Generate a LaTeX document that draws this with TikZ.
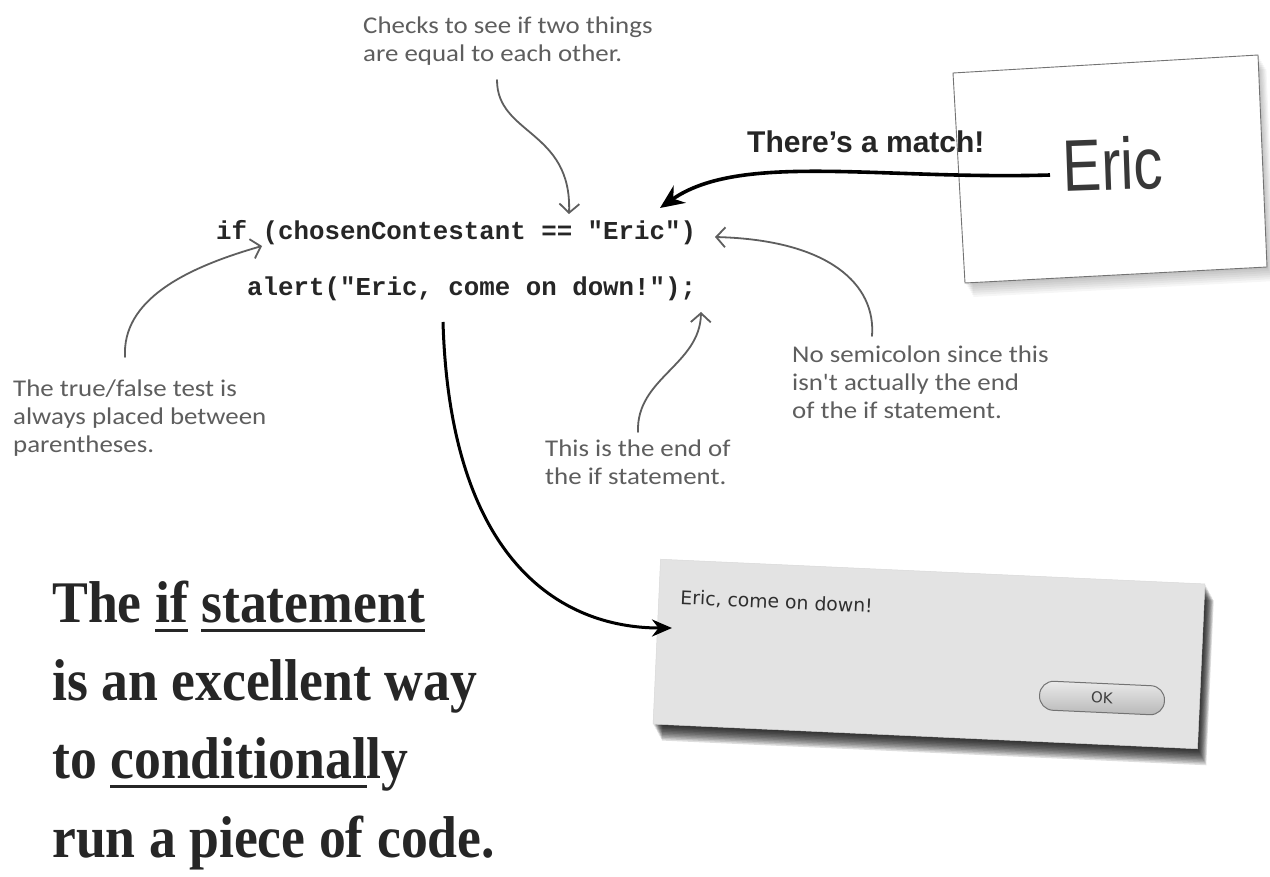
\documentclass[tikz,border=0pt]{standalone}
\usepackage{graphicx}
\usepackage{fontspec}
\setmainfont{Liberation Serif}
\newfontfamily\codefont{Liberation Mono}
\newfontfamily\handfont[FakeStretch=1.12]{Carlito}
\newfontfamily\boldsans{Liberation Sans}
\newfontfamily\dlgfont{DejaVu Sans}
\newfontfamily\bigfont[FakeStretch=0.91]{Liberation Serif}
\usetikzlibrary{arrows.meta}
\definecolor{pen}{HTML}{5E5E5E}
\definecolor{ink}{HTML}{262626}
\definecolor{dlgfill}{HTML}{E3E3E3}
\newcommand\myul[1]{\setbox0=\hbox{#1}\rlap{\rule[-10pt]{\wd0}{3pt}}\box0\relax}
\begin{document}
\begin{tikzpicture}[x=1pt,y=-1pt,
  note/.style={font=\handfont\fontsize{24}{28}\selectfont, text=pen, align=left, inner sep=0pt, anchor=north west},
  code/.style={font=\codefont\bfseries\fontsize{25.8}{30}\selectfont, text=ink, inner sep=0pt, anchor=base west},
  big/.style={font=\bigfont\bfseries\fontsize{59}{78}\selectfont, text=ink, inner sep=0pt, anchor=base west},
  pointer/.style={draw=pen, line width=1.8pt, line cap=round, -{Straight Barb[length=9pt,width=20pt,line width=1.8pt]}},
  bigarrow/.style={draw=black, line width=3.6pt, -{Stealth[length=24pt,width=21pt]}},
  flowarrow/.style={draw=black, line width=3pt, -{Stealth[length=20pt,width=17pt]}},
  dlgshadow/.style={rotate=-2.6, minimum width=545pt, minimum height=165pt, inner sep=0pt, fill=black, opacity=0.13},
]
\useasboundingbox (0,0) rectangle (1270,877);
\fill[white] (0,0) rectangle (1270,877);

% ---------- card with "Eric" ----------
\foreach \s in {2,4,...,14}
  \fill[black, opacity=0.035] (953+\s*0.6,73+\s) -- (1258+\s*0.6,55+\s) -- (1267+\s*0.6,267+\s) -- (965+\s*0.6,283+\s) -- cycle;
\filldraw[fill=white, draw=black!55, line width=0.9pt] (953,73) -- (1258,55) -- (1267,267) -- (965,283) -- cycle;
\node[font=\boldsans\fontsize{73}{73}\selectfont, text=black!78, anchor=base west, inner sep=0pt, rotate=2] (eric) at (1063,192) {\scalebox{0.8}[1]{Eric}};

% ---------- annotations ----------
\node[note] (n1) at (363,17) {Checks to see if two things\\are equal to each other.};
\node[note] (n2) at (13,380) {The true/false test is\\always placed between\\parentheses.};
\node[note] (n3) at (792,346) {No semicolon since this\\isn't actually the end\\of the if statement.};
\node[note] (n4) at (545,440) {This is the end of\\the if statement.};

% ---------- code ----------
\node[code] (line1) at (216,240) {if (chosenContestant == "Eric")};
\node[code] (line2) at (247,296) {alert("Eric, come on down!");};

% ---------- match label ----------
\node[font=\boldsans\bfseries\fontsize{30}{30}\selectfont, text=ink, anchor=base west, inner sep=0pt] (match) at (747,153) {There’s a match!};

% ---------- arrow end points ----------
\coordinate (n1start) at (497,80);
\coordinate (eqtip) at (569,214);
\coordinate (n2start) at (125,357);
\coordinate (partip) at (262,246);
\coordinate (n3start) at (872,336);
\coordinate (rparen) at (715,237);
\coordinate (n4start) at (638,432);
\coordinate (semitip) at (701,312);
\coordinate (matchstart) at (1050,175);
\coordinate (matchtip) at (660,208);
\coordinate (runstart) at (443,322);

% ---------- dialog ----------
\foreach \k in {1,...,11}
  \node[dlgshadow] at (929+0.8*\k,654+1.5*\k) {};
\node[rotate=-2.6, minimum width=545pt, minimum height=165pt, inner sep=0pt, fill=dlgfill, draw=black!15, line width=0.5pt] (dialog) at (929,654) {};
\node[font=\dlgfont\fontsize{18.8}{22}\selectfont, text=black!82, anchor=base west, inner sep=0pt, rotate=-2.6] (msg) at (680,604) {Eric, come on down!};
\node[rotate=-2.6, draw=black!55, line width=1pt, rounded corners=14pt, minimum width=125pt, minimum height=29pt, inner sep=0pt, top color=white!92!black, bottom color=black!28, font=\dlgfont\fontsize{15}{18}\selectfont, text=black!75] (ok) at (1102,698) {OK};
\coordinate (dlgtip) at (672,628);

% ---------- arrows ----------
\draw[pointer] (n1start) .. controls (497,135) and (572,130) .. (eqtip);
\draw[pointer] (n2start) .. controls (122,300) and (185,268) .. (partip);
\draw[pointer] (n3start) .. controls (876,285) and (830,240) .. (rparen);
\draw[pointer] (n4start) .. controls (636,378) and (700,365) .. (semitip);
\draw[bigarrow] (matchstart) .. controls (880,180) and (740,152) .. (matchtip);
\draw[flowarrow] (runstart) .. controls (450,560) and (560,628) .. (dlgtip);

% ---------- big statement ----------
\node[big] (big1) at (52,622) {The \myul{if} \myul{statement}};
\node[big] (big2) at (52,700) {is an excellent way};
\node[big] (big3) at (52,778) {to \myul{conditional}ly};
\node[big] (big4) at (52,857) {run a piece of code.};
\end{tikzpicture}
\end{document}
